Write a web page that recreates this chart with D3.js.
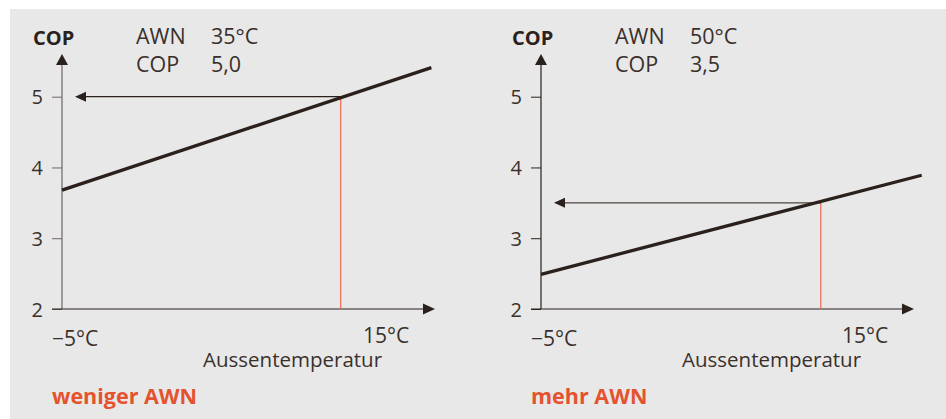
<!DOCTYPE html>
<html><head><meta charset="utf-8">
<script src="https://cdn.jsdelivr.net/npm/d3@7"></script>
<style>
html,body{margin:0;padding:0;background:#fff;}
svg{display:block;}
text{font-family:"Open Sans","Noto Sans",sans-serif;}
</style></head>
<body>
<svg id="chart" width="946" height="419"></svg>
<script>
// ---- data ----
const panelTitles = ["weniger AWN", "mehr AWN"];
const awnValues = ["35°C", "50°C"];
const copValues = ["5,0", "3,5"];
const lineTempStart = [-5, -5];
const lineTempEnd = [17.8, 18.5];
const lineCopStart = [3.68, 2.49];
const lineCopEnd = [5.41, 3.89];
const operatingTemp = [12.2, 12.27];
const operatingCop = [5.0, 3.5];
const yTicks = [2, 3, 4, 5];
const xTickValues = [-5, 15];
const xTickLabels = ["\u22125°C", "15°C"];
const yTitle = "COP";
const xTitle = "Aussentemperatur";

const svg = d3.select("#chart");
const dark = "#2b211c";
const textCol = "#3a302b";
const red = "#e8735a";
const orange = "#e4532e";

svg.append("rect").attr("x", 10).attr("y", 9).attr("width", 936).attr("height", 410).attr("fill", "#e8e8e8");

const x = d3.scaleLinear().domain([-5, 15]).range([62, 386]);
const y = d3.scaleLinear().domain([2, 5]).range([309, 96.7]);

const offsets = [0, 479];
const axisCols = ["#6e6560", dark];

function arrowHead(g, tipX, tipY, dir, len, half, col) {
  let pts;
  if (dir === "up") pts = [[tipX, tipY], [tipX - half, tipY + len], [tipX + half, tipY + len]];
  else if (dir === "right") pts = [[tipX, tipY], [tipX - len, tipY - half], [tipX - len, tipY + half]];
  else pts = [[tipX, tipY], [tipX + len, tipY - half], [tipX + len, tipY + half]];
  g.append("path").attr("d", d3.line()(pts) + "Z").attr("fill", col);
}

panelTitles.forEach((title, i) => {
  const g = svg.append("g").attr("transform", `translate(${offsets[i]},0)`);
  const x0 = x(-5);

  // y axis ticks + labels
  const yAxis = d3.axisLeft(y).tickValues(yTicks).tickSize(10).tickPadding(9).tickSizeOuter(0).tickFormat(d3.format("d"));
  const ya = g.append("g").attr("transform", `translate(${x0},0)`).call(yAxis);
  ya.select(".domain").remove();
  ya.selectAll(".tick line").attr("stroke", axisCols[i]).attr("stroke-width", 1);
  ya.selectAll(".tick text").attr("fill", textCol).style("font-size", "20px").style("font-family", '"Open Sans",sans-serif').attr("dy", "0.36em");

  // y axis line and arrow
  g.append("line").attr("x1", x0).attr("x2", x0).attr("y1", y(2)).attr("y2", 63).attr("stroke", axisCols[i]).attr("stroke-width", 1.2);
  arrowHead(g, x0, 54, "up", 11, 6, dark);

  // x axis line and arrow
  g.append("line").attr("x1", x0 - 10).attr("x2", 424).attr("y1", y(2)).attr("y2", y(2)).attr("stroke", dark).attr("stroke-width", 1.2);
  arrowHead(g, 435, y(2), "right", 12, 5.5, dark);

  // x tick labels
  g.append("text").attr("x", x(xTickValues[0]) - 10).attr("y", 346).attr("text-anchor", "start")
    .attr("fill", textCol).style("font-size", "21px").text(xTickLabels[0]);
  g.append("text").attr("x", x(xTickValues[1])).attr("y", 343).attr("text-anchor", "middle")
    .attr("fill", textCol).style("font-size", "21px").text(xTickLabels[1]);

  // x title
  g.append("text").attr("x", 203).attr("y", 367).attr("fill", textCol).style("font-size", "20.5px").text(xTitle);

  // y title
  g.append("text").attr("x", x0 - 29).attr("y", 45).attr("fill", dark).style("font-size", "20px").style("font-weight", "700").text(yTitle);

  // annotation
  g.append("text").attr("x", x0 + 74).attr("y", 44).attr("fill", textCol).style("font-size", "21.5px").text("AWN");
  g.append("text").attr("x", x0 + 149).attr("y", 44).attr("fill", textCol).style("font-size", "21.5px").text(awnValues[i]);
  g.append("text").attr("x", x0 + 74).attr("y", 72).attr("fill", textCol).style("font-size", "21.5px").text("COP");
  g.append("text").attr("x", x0 + 149).attr("y", 72).attr("fill", textCol).style("font-size", "21.5px").text(copValues[i]);

  // red vertical
  g.append("line").attr("x1", x(operatingTemp[i])).attr("x2", x(operatingTemp[i]))
    .attr("y1", y(2)).attr("y2", y(operatingCop[i])).attr("stroke", red).attr("stroke-width", 1.3);

  // horizontal arrow
  g.append("line").attr("x1", x(operatingTemp[i])).attr("x2", x0 + 23)
    .attr("y1", y(operatingCop[i])).attr("y2", y(operatingCop[i])).attr("stroke", i === 0 ? dark : "#4e4440").attr("stroke-width", 1.2);
  arrowHead(g, x0 + 13, y(operatingCop[i]), "left", 11, 5, dark);

  // COP line
  g.append("path").datum([[lineTempStart[i], lineCopStart[i]], [lineTempEnd[i], lineCopEnd[i]]])
    .attr("d", d3.line().x(d => x(d[0])).y(d => y(d[1])))
    .attr("stroke", dark).attr("stroke-width", 3.3).attr("fill", "none");

  // panel title
  g.append("text").attr("x", x0 - 10).attr("y", 404).attr("fill", orange).style("font-size", "21.5px").style("font-weight", "700").text(title);
});
</script>
</body></html>
